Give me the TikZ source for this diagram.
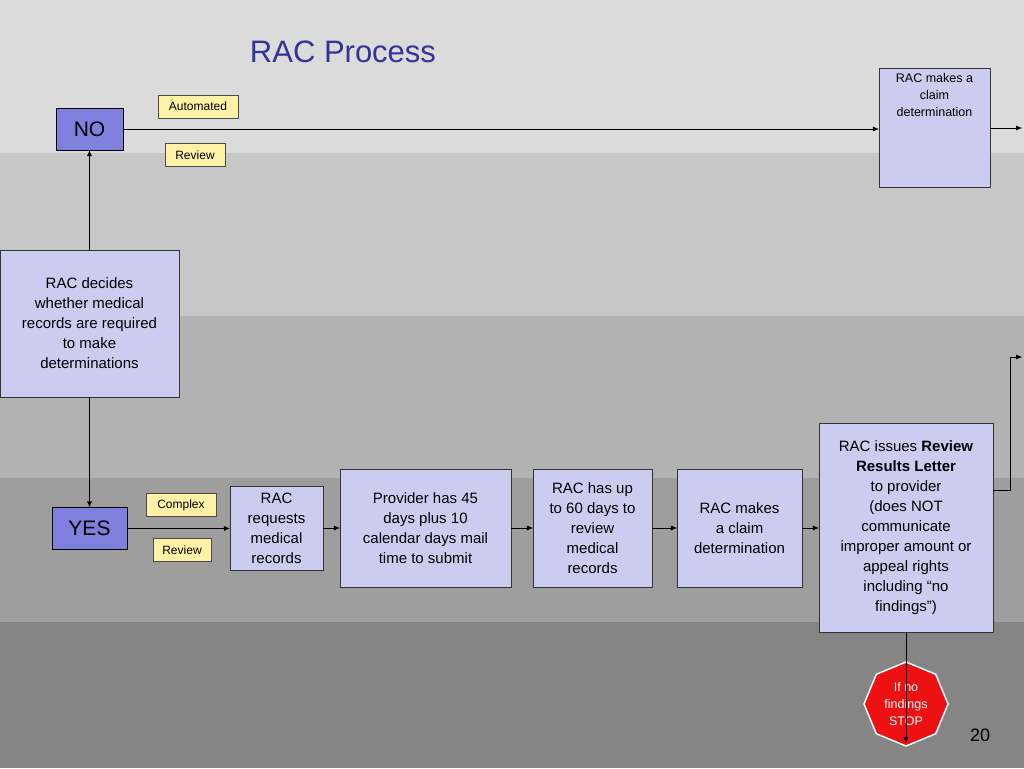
\documentclass[tikz,border=0pt]{standalone}
\usepackage{fontspec}
\setmainfont{Liberation Sans}
\usetikzlibrary{arrows.meta,shapes.geometric}
\definecolor{boxfill}{HTML}{CCCCF0}
\definecolor{bluebox}{HTML}{7F7FDD}
\definecolor{tagfill}{HTML}{FFF2A6}
\definecolor{titleblue}{HTML}{333399}
\definecolor{stopred}{HTML}{EE1111}
\tikzset{
  procbox/.style={draw=black!80, fill=boxfill, align=center, inner sep=2pt, font=\fontsize{15}{20}\selectfont},
  answer/.style={draw=black, fill=bluebox, minimum height=42pt, font=\fontsize{21}{24}\selectfont},
  tag/.style={draw=black!70, fill=tagfill, font=\fontsize{12}{14}\selectfont, minimum height=23pt},
  flow/.style={-{Latex[length=6pt,width=5pt]}, black}
}
\begin{document}
\begin{tikzpicture}[x=1pt,y=-1pt]
    % Hintergrund
    \fill[black!14] (0,0) rectangle (1024,153);
    \fill[black!22] (0,153) rectangle (1024,316);
    \fill[black!30] (0,316) rectangle (1024,478);
    \fill[black!38] (0,478) rectangle (1024,622);
    \fill[black!48] (0,622) rectangle (1024,768);
    \useasboundingbox (0,0) rectangle (1024,768);

    \node[text=titleblue, font=\fontsize{31}{34}\selectfont] (title) at (343,52) {RAC Process};

    % Zweig NO
    \node[answer, minimum width=67pt] (no) at (89.5,129) {NO};
    \node[tag, minimum width=80pt] (auto) at (198,106.5) {Automated};
    \node[tag, minimum width=60pt] (rev1) at (195,155) {Review};
    \node[procbox, minimum width=111pt, minimum height=119pt, font=\fontsize{12.5}{17}\selectfont, anchor=north] (topdet) at (934.5,68) {RAC makes a\\claim\\determination\\[48pt]};
    \coordinate (topend) at (1022,128);
    \draw[flow] (no.east) -- (topdet.west |- no.east);
    \draw[flow] (topdet.east |- topend) -- (topend);

    % Entscheidung
    \node[procbox, minimum width=179pt, minimum height=147pt] (decide) at (89.5,323.5) {RAC decides\\whether medical\\records are required\\to make\\determinations};
    \draw[flow] (decide.north) -- (no.south);

    % Zweig YES
    \node[answer, minimum width=75pt] (yes) at (89.5,528.5) {YES};
    \draw[flow] (decide.south) -- (yes.north);
    \node[tag, minimum width=70pt] (complex) at (181,505) {Complex};
    \node[tag, minimum width=58pt] (rev2) at (182,550) {Review};
    \node[procbox, minimum width=93pt, minimum height=84pt] (request) at (276.5,528) {RAC\\requests\\medical\\records};
    \node[procbox, minimum width=171pt, minimum height=118pt] (provider) at (425.5,528) {Provider has 45\\days plus 10\\calendar days mail\\time to submit};
    \node[procbox, minimum width=119pt, minimum height=118pt] (review) at (592.5,528) {RAC has up\\to 60 days to\\review\\medical\\records};
    \node[procbox, minimum width=125pt, minimum height=118pt] (determ) at (739.5,528) {RAC makes\\a claim\\determination};
    \node[procbox, minimum width=174pt, minimum height=209pt] (letter) at (906,527.5) {RAC issues \textbf{Review}\\\textbf{Results Letter}\\to provider\\(does NOT\\communicate\\improper amount or\\appeal rights\\including “no\\findings”)};
    \draw[flow] (yes.east) -- (request.west |- yes.east);
    \draw[flow] (request) -- (provider);
    \draw[flow] (provider) -- (review);
    \draw[flow] (review) -- (determ);
    \draw[flow] (determ) -- (letter.west |- determ);
    \coordinate (appealend) at (1022,357);
    \draw[flow] (letter.east |- 0,490) -- (1010,490) -- (1010,357) -- (appealend);

    % Stopp
    \node[regular polygon, regular polygon sides=8, shape border rotate=22.5, fill=stopred, draw=white, line width=1.5pt, minimum size=84pt, text=white, align=center, font=\fontsize{12.5}{17}\selectfont] (stop) at (906,704) {If no\\findings\\STOP};
    \coordinate (stopend) at (906,743);
    \draw[flow] (letter.south) -- (stopend);

    \node[font=\fontsize{18}{20}\selectfont] (page) at (980,735) {20};
\end{tikzpicture}
\end{document}
